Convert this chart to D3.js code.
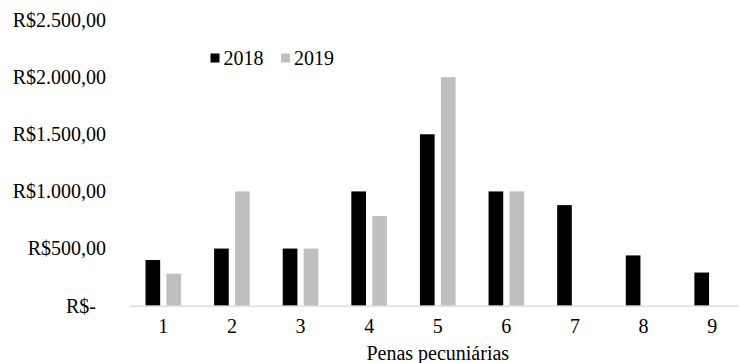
<!DOCTYPE html>
<html>
<head>
<meta charset="utf-8">
<script src="https://cdn.jsdelivr.net/npm/d3@7"></script>
<style>
  html, body { margin: 0; padding: 0; background: #fff; }
</style>
</head>
<body>
<svg id="chart" width="739" height="363"></svg>
<script>
// Penalty categories and amounts per year (R$)
const categories = ["1", "2", "3", "4", "5", "6", "7", "8", "9"];
const seriesNames = ["2018", "2019"];
const values2018 = [400, 500, 500, 1000, 1500, 1000, 880, 440, 290];
const values2019 = [280, 1000, 500, 785, 2000, 1000, 0, 0, 0];
const yTicks = [0, 500, 1000, 1500, 2000, 2500];
const colors = ["#000000", "#bfbfbf"];
const xTitle = "Penas pecuniárias";

const FONT = "Liberation Serif";
const fontSize = 20;

const svg = d3.select("#chart");

const x = d3.scaleBand().domain(categories).range([129, 746.5]).paddingInner(0).paddingOuter(0);
const y = d3.scaleLinear().domain([0, 2500]).range([305.7, 20]);

// offsets of the two series inside each category
const sub = d3.scaleBand().domain(seriesNames).range([16.5, x.bandwidth() - 16.5]).paddingInner(0.3);

const fmt = v => {
  if (v === 0) return "R$-";
  const s = d3.format(",.2f")(v);
  return "R$" + s.replace(/,/g, "#").replace(".", ",").replace(/#/g, ".");
};

function styleText(sel) {
  sel.attr("font-family", FONT).attr("font-size", fontSize).attr("fill", "#000");
}

// y axis labels (no line, no ticks)
const yAxis = svg.append("g").attr("transform", "translate(106,0)")
  .call(d3.axisLeft(y).tickValues(yTicks).tickFormat(fmt).tickSize(0).tickPadding(0));
yAxis.attr("font-family", FONT).attr("font-size", fontSize);
yAxis.select(".domain").remove();
yAxis.selectAll("text").call(styleText).attr("dx", d => d === 0 ? -10 : 0);

// bars
const data = categories.map((c, i) => ({ c, vals: [values2018[i], values2019[i]] }));
const groups = svg.append("g").selectAll("g").data(data).join("g")
  .attr("transform", d => `translate(${x(d.c)},0)`);
groups.selectAll("rect")
  .data(d => d.vals.map((v, j) => ({ key: seriesNames[j], v, j })).filter(e => e.v > 0))
  .join("rect")
  .attr("x", e => sub(e.key))
  .attr("width", sub.bandwidth())
  .attr("y", e => y(e.v))
  .attr("height", e => y(0) - y(e.v))
  .attr("fill", e => colors[e.j]);

// x axis: light baseline and category labels
const xAxis = svg.append("g").attr("transform", `translate(0,${y(0)})`)
  .call(d3.axisBottom(x).tickSize(0).tickPadding(13));
xAxis.attr("font-family", FONT).attr("font-size", fontSize);
xAxis.select(".domain").attr("stroke", "#d9d9d9").attr("stroke-width", 1.3);
xAxis.selectAll("text").call(styleText);

// x axis title
svg.append("text")
  .attr("x", (x.range()[0] + x.range()[1]) / 2)
  .attr("y", 360)
  .attr("text-anchor", "middle")
  .call(styleText)
  .text(xTitle);

// legend
const legend = svg.append("g");
const legendX = [210.5, 281];
seriesNames.forEach((name, i) => {
  legend.append("rect")
    .attr("x", legendX[i]).attr("y", 53.5)
    .attr("width", 9).attr("height", 9)
    .attr("fill", colors[i]);
  legend.append("text")
    .attr("x", legendX[i] + 13).attr("y", 58)
    .attr("dy", "0.35em")
    .call(styleText)
    .text(name);
});
</script>
</body>
</html>
